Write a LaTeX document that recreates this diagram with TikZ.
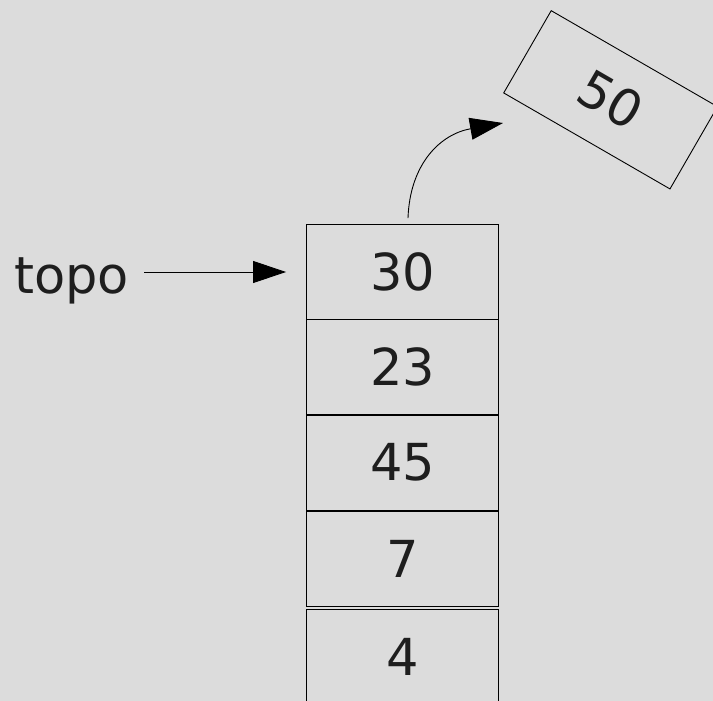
\documentclass[tikz,border=0pt]{standalone}
\usepackage{fontspec}
\setmainfont{DejaVu Sans}
\usetikzlibrary{arrows.meta}
\definecolor{bg}{HTML}{DCDCDC}
\definecolor{ink}{HTML}{1E1E1E}
\tikzset{
  cell/.style={draw=black, line width=0.9pt, minimum width=192pt, minimum height=95pt,
               inner sep=0pt, text=ink, font=\fontsize{51}{51}\selectfont},
  label/.style={text=ink, inner sep=0pt, font=\fontsize{51}{51}\selectfont},
  pointer/.style={line width=0.9pt, -{Triangle[length=33pt,width=22pt]}},
}
\begin{document}
\begin{tikzpicture}[x=1pt,y=-1pt]
  % canvas
  \fill[bg] (0,0) rectangle (713,701);
  \useasboundingbox (0,0) rectangle (713,701);

  % stack cells, top to bottom
  \node[cell] (b30) at (402.5,272) {30};
  \node[cell] (b23) at (402.5,367) {23};
  \node[cell] (b45) at (402.5,462.5) {45};
  \node[cell] (b7)  at (402.5,558.5) {7};
  \node[cell] (b4)  at (402.5,657) {4};

  % element being pushed
  \node[cell, rotate=-30] (b50) at (610.6,99.8) {50};

  % top-of-stack label and its pointer
  \node[label, anchor=base west] (topo) at (14,293) {topo};
  \draw[pointer, shorten <=15pt, shorten >=20pt] (topo.east |- b30.west) -- (b30.west);

  % push arrow from the top cell to the new element
  \coordinate (push) at ([shift={(5.5,-6)}]b30.north);
  \coordinate (pushend) at (503,123);
  \draw[pointer] (push) .. controls (410,163) and (441,134) .. (pushend);
\end{tikzpicture}
\end{document}
